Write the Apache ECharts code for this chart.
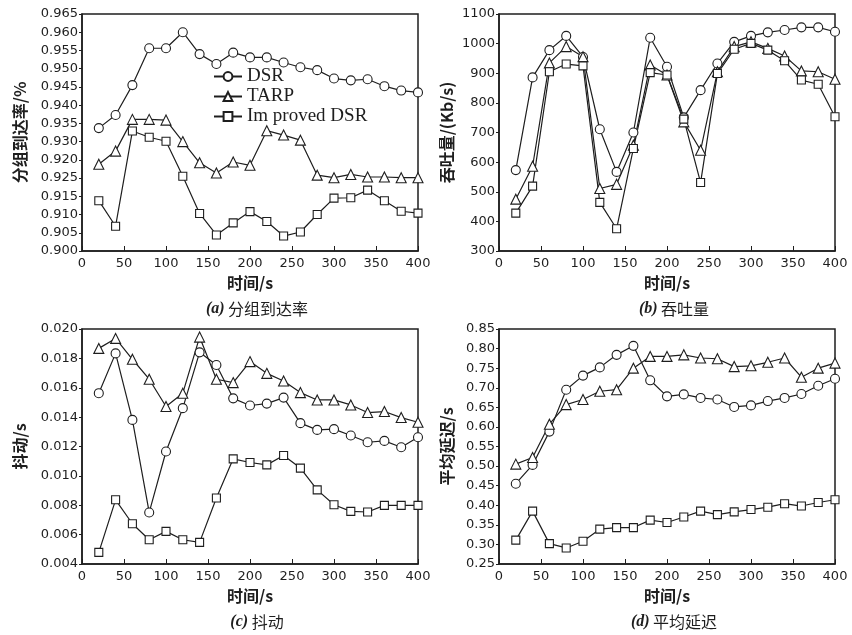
<!DOCTYPE html>
<html><head><meta charset="utf-8">
<script src="https://cdn.jsdelivr.net/npm/echarts@6/dist/echarts.min.js"></script>
<style>html,body{margin:0;padding:0;background:#fff}#c{width:852px;height:635px}</style>
</head><body><div id="c"></div>
<script>
// ---- data ----
const times = [20,40,60,80,100,120,140,160,180,200,220,240,260,280,300,320,340,360,380,400];
const xTicks = [0,50,100,150,200,250,300,350,400];
const seriesNames = ['DSR','TARP','Im proved DSR'];

// (a) packet delivery ratio (linear positions on the axis)
const aDSR  = [0.9337,0.9373,0.9455,0.9556,0.9556,0.9600,0.9540,0.9513,0.9544,0.9531,0.9531,0.9517,0.9504,0.9496,0.9473,0.9468,0.9471,0.9452,0.9440,0.9435];
const aTARP = [0.9238,0.9274,0.9361,0.9361,0.9359,0.9300,0.9242,0.9214,0.9244,0.9235,0.9330,0.9318,0.9304,0.9208,0.9201,0.9210,0.9203,0.9203,0.9201,0.9201];
const aIMP  = [0.9138,0.9068,0.9329,0.9312,0.9301,0.9205,0.9103,0.9044,0.9077,0.9108,0.9081,0.9041,0.9052,0.9100,0.9145,0.9146,0.9167,0.9138,0.9109,0.9104];
const aYLabels = ['0.900','0.905','0.910','0.915','0.925','0.920','0.930','0.935','0.940','0.945','0.950','0.955','0.960','0.965'];

// (b) throughput
const bDSR  = [573,886,978,1026,955,711,567,700,1020,922,751,843,933,1006,1026,1038,1046,1055,1055,1040];
const bTARP = [475,586,935,990,956,511,525,657,928,894,736,640,905,990,1006,984,958,908,905,880];
const bIMP  = [428,519,905,931,925,464,375,646,902,894,745,531,899,981,1001,978,942,877,863,753];

// (c) jitter
const cDSR  = [0.01563,0.01834,0.01381,0.00751,0.01166,0.01461,0.01841,0.01755,0.01528,0.01479,0.01492,0.01533,0.01359,0.01313,0.01318,0.01275,0.01229,0.01238,0.01195,0.01263];
const cTARP = [0.01868,0.01936,0.01794,0.01658,0.01472,0.01563,0.01945,0.01658,0.01635,0.01778,0.01698,0.01646,0.01567,0.01517,0.01517,0.01483,0.01431,0.01438,0.01397,0.01365];
const cIMP  = [0.00479,0.00837,0.00674,0.00565,0.00622,0.00565,0.00547,0.00849,0.01116,0.01091,0.01075,0.01139,0.01053,0.00905,0.00803,0.00758,0.00754,0.00799,0.00799,0.00799];

// (d) average delay
const dDSR  = [0.455,0.503,0.588,0.695,0.731,0.752,0.784,0.807,0.719,0.678,0.683,0.674,0.670,0.651,0.655,0.666,0.674,0.684,0.705,0.723];
const dTARP = [0.505,0.522,0.607,0.657,0.670,0.691,0.695,0.750,0.780,0.780,0.784,0.776,0.774,0.754,0.756,0.765,0.776,0.727,0.750,0.763];
const dIMP  = [0.311,0.385,0.302,0.291,0.308,0.339,0.343,0.343,0.362,0.356,0.370,0.385,0.376,0.383,0.389,0.395,0.404,0.398,0.407,0.414];

const captions = [['(a)',' 分组到达率'],['(b)',' 吞吐量'],['(c)',' 抖动'],['(d)',' 平均延迟']];
const yNames = ['分组到达率/%','吞吐量/(Kb/s)','抖动/s','平均延迟/s'];
const xName = '时间/s';

// ---- chart ----
const INK = '#1e1e1e';
const sans = 'DejaVu Sans, sans-serif';
const cjk = 'Noto Sans CJK SC, sans-serif';
const serif = 'Liberation Serif, Times New Roman, serif';
const grids = [
  {left:82, top:14, width:336, height:237},
  {left:499, top:14, width:336, height:237},
  {left:82, top:329, width:336, height:235},
  {left:499, top:329, width:336, height:235}
].map(g => Object.assign({show:true, borderColor:INK, borderWidth:1.5, backgroundColor:'transparent'}, g));

const xAxes = grids.map((g,i)=>({
  type:'value', gridIndex:i, min:0, max:400, interval:50,
  name:xName, nameLocation:'middle', nameGap:24,
  nameTextStyle:{fontFamily:cjk, fontSize:16, fontWeight:'bold', color:INK},
  axisLine:{show:true, lineStyle:{color:INK, width:1.5}},
  axisTick:{show:true, inside:true, length:5, lineStyle:{color:INK}},
  axisLabel:{fontFamily:sans, fontSize:13, color:INK, margin:6, showMaxLabel:true},
  splitLine:{show:false}
}));

const yCfg = [
  {min:0.900, max:0.965, interval:0.005, fmt:v=>aYLabels[Math.round((v-0.9)/0.005)], gap:54},
  {min:300, max:1100, interval:100, fmt:v=>String(Math.round(v)), gap:44},
  {min:0.004, max:0.020, interval:0.002, fmt:v=>v.toFixed(3), gap:54},
  {min:0.25, max:0.85, interval:0.05, fmt:v=>v.toFixed(2), gap:44}
];
const yAxes = yCfg.map((c,i)=>({
  type:'value', gridIndex:i, min:c.min, max:c.max, interval:c.interval,
  name:yNames[i], nameLocation:'middle', nameGap:c.gap,
  nameTextStyle:{fontFamily:cjk, fontSize:16, fontWeight:'bold', color:INK},
  axisLine:{show:true, lineStyle:{color:INK, width:1.5}},
  axisTick:{show:true, inside:false, length:3, lineStyle:{color:INK}},
  axisLabel:{fontFamily:sans, fontSize:13, color:INK, margin:4, formatter:c.fmt},
  splitLine:{show:false}
}));

const sets = [[aDSR,aTARP,aIMP],[bDSR,bTARP,bIMP],[cDSR,cTARP,cIMP],[dDSR,dTARP,dIMP]];
const symbols = ['circle','triangle','rect'];
const sizes = [9,10,8];
const series = [];
sets.forEach((arrs,gi)=>{
  arrs.forEach((arr,si)=>{
    series.push({
      type:'line', name:seriesNames[si], xAxisIndex:gi, yAxisIndex:gi,
      data:times.map((t,k)=>[t,arr[k]]),
      symbol:symbols[si], symbolSize:sizes[si], showAllSymbol:true,
      lineStyle:{color:INK, width:1.2},
      itemStyle:{color:'#fff', borderColor:INK, borderWidth:1.1},
      animation:false, z:3
    });
  });
});

const titles = captions.map((c,i)=>({
  text:'{a|'+c[0]+'}{b|'+c[1]+'}',
  left: grids[i].left + grids[i].width/2 + 2, textAlign:'center',
  top: grids[i].top + grids[i].height + 45,
  textStyle:{fontWeight:'normal', rich:{
    a:{fontFamily:serif, fontStyle:'italic', fontWeight:'bold', fontSize:16, color:INK},
    b:{fontFamily:cjk, fontWeight:'normal', fontSize:16, color:INK}
  }}
}));

const chart = echarts.init(document.getElementById('c'), null, {renderer:'canvas'});
chart.setOption({
  animation:false,
  backgroundColor:'#fff',
  title:titles,
  grid:grids, xAxis:xAxes, yAxis:yAxes, series:series,
  legend:{
    data:seriesNames, orient:'vertical', left:208, top:62,
    itemWidth:28, itemHeight:11, itemGap:1,
    textStyle:{fontFamily:serif, fontSize:19, color:INK, lineHeight:16},
    inactiveColor:INK
  }
});
</script></body></html>
